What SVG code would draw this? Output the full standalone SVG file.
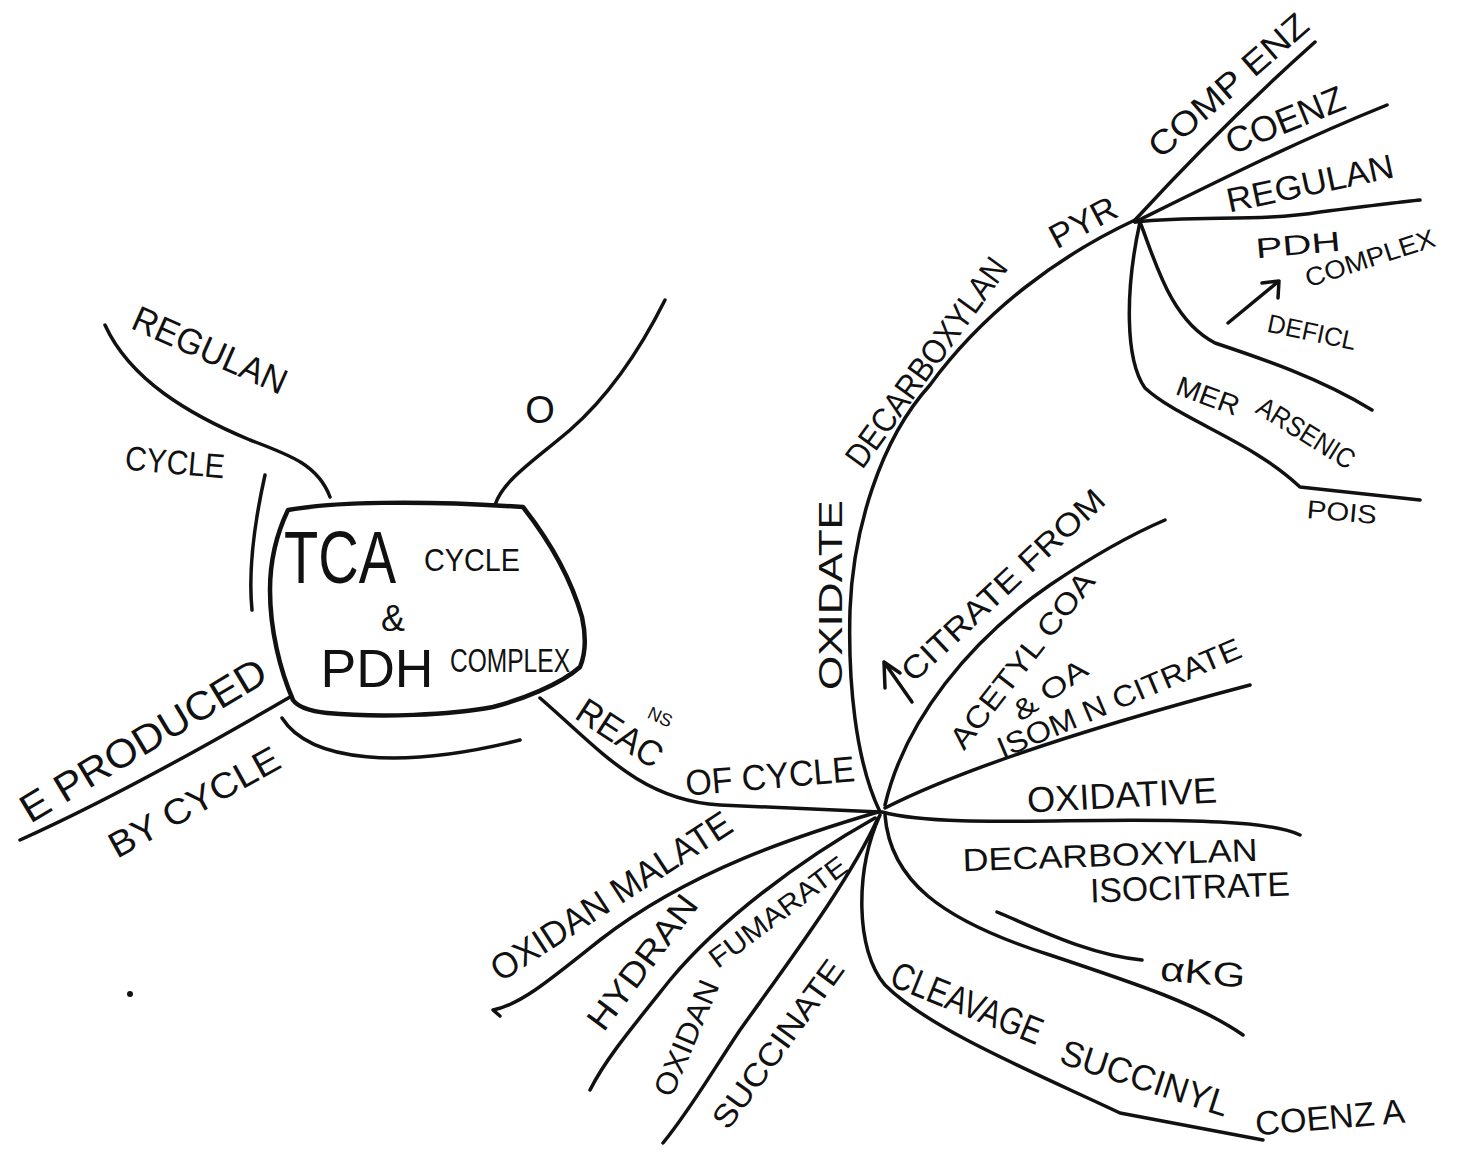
<svg xmlns="http://www.w3.org/2000/svg" width="1461" height="1152" viewBox="0 0 1461 1152">
  <style>
    .ln { fill: none; stroke: #111; stroke-width: 3.5; stroke-linecap: round; stroke-linejoin: round; }
    .box { fill: #fff; stroke: #111; stroke-width: 4.5; stroke-linejoin: round; }
    .t { font-family: "Liberation Sans", Arial, sans-serif; fill: #111; text-anchor: middle; dominant-baseline: central; }
  </style>
  <rect width="1461" height="1152" fill="#fff"/>

  <!-- branches -->
  <g id="connectors">
    <!-- central box branches -->
    <path class="ln" d="M330,497 C318,465 290,455 250,440 C190,415 130,380 105,325"/>
    <path class="ln" d="M265,475 C255,520 248,570 252,610"/>
    <path class="ln" d="M495,505 C503,480 535,460 570,430 C610,395 640,350 665,300"/>
    <path class="ln" d="M290,697 C230,732 120,795 20,840"/>
    <path class="ln" d="M282,718 C310,762 400,770 520,740"/>
    <path class="ln" d="M540,698 C600,750 640,800 720,805 L880,812"/>
    <!-- reaction hub -->
    <path class="ln" d="M880,812 C855,760 848,680 850,610 C853,530 880,440 930,385 C985,310 1060,255 1135,220"/>
    <path class="ln" d="M885,805 C905,720 970,640 1050,585 C1090,558 1130,535 1165,520"/>
    <path class="ln" d="M885,808 C960,770 1080,730 1250,685"/>
    <path class="ln" d="M882,812 C950,830 1100,815 1220,822 C1260,824 1285,828 1300,835"/>
    <path class="ln" d="M885,815 C890,880 940,920 1050,955 C1140,985 1200,1005 1243,1035"/>
    <path class="ln" d="M997,912 C1040,930 1090,955 1142,960"/>
    <path class="ln" d="M880,815 C855,870 855,950 885,985 C930,1030 1040,1075 1120,1113 L1263,1140"/>
    <path class="ln" d="M878,812 C800,835 690,870 600,940 C550,980 520,1005 493,1010 L500,1016"/>
    <path class="ln" d="M875,818 C800,860 720,920 670,980 C630,1030 605,1060 590,1090"/>
    <path class="ln" d="M878,818 C850,880 790,960 740,1030 C710,1075 690,1110 663,1143"/>
    <!-- PDH hub -->
    <path class="ln" d="M1135,220 C1190,160 1250,100 1315,42"/>
    <path class="ln" d="M1135,222 C1220,180 1300,140 1387,105"/>
    <path class="ln" d="M1135,222 C1200,215 1260,222 1320,212 C1360,207 1400,202 1420,200"/>
    <path class="ln" d="M1140,222 C1155,260 1170,320 1215,343 C1260,358 1320,378 1372,410"/>
    <path class="ln" d="M1140,222 C1125,290 1125,360 1145,388 C1180,420 1250,440 1300,487 L1420,500"/>
    <!-- small arrows -->
    <path class="ln" d="M912,702 L884,662 M885,688 L884,662 L900,673"/>
    <path class="ln" d="M1228,323 L1279,281 M1262,283 L1279,281 L1278,298"/>
  </g>

  <g id="node-centre">
    <path class="box" d="M288,510 C330,502 420,500 523,507 C545,535 570,575 582,617 C587,640 585,655 580,667 C560,685 520,700 493,707 C450,715 380,718 327,713 Q300,710 293,700 C280,670 270,630 270,590 C270,560 276,535 288,510 Z"/>
    <text class="t" x="340" y="557" font-size="74" textLength="112" lengthAdjust="spacingAndGlyphs">TCA</text>
    <text class="t" x="472" y="560" font-size="32" textLength="96" lengthAdjust="spacingAndGlyphs">CYCLE</text>
    <text class="t" x="393" y="618" font-size="36">&amp;</text>
    <text class="t" x="377" y="668" font-size="54" textLength="113" lengthAdjust="spacingAndGlyphs">PDH</text>
    <text class="t" x="510" y="660" font-size="34" textLength="120" lengthAdjust="spacingAndGlyphs">COMPLEX</text>
  </g>

  <g id="node-regulation">
    <text class="t" transform="translate(210,350) rotate(24)" font-size="36" textLength="165" lengthAdjust="spacingAndGlyphs">REGULAN</text>
    <text class="t" transform="translate(175,462) rotate(5)" font-size="34" textLength="100" lengthAdjust="spacingAndGlyphs">CYCLE</text>
  </g>

  <g id="node-o">
    <text class="t" x="540" y="410" font-size="38">O</text>
  </g>

  <g id="node-energy">
    <text class="t" transform="translate(143,740) rotate(-31)" font-size="40" textLength="280" lengthAdjust="spacingAndGlyphs">E PRODUCED</text>
    <text class="t" transform="translate(194,802) rotate(-29)" font-size="36" textLength="190" lengthAdjust="spacingAndGlyphs">BY CYCLE</text>
  </g>

  <g id="node-reactions">
    <text class="t" transform="translate(620,733) rotate(33)" font-size="36" textLength="95" lengthAdjust="spacingAndGlyphs">REAC</text>
    <text class="t" transform="translate(660,717) rotate(25)" font-size="18">NS</text>
    <text class="t" transform="translate(770,776) rotate(-5)" font-size="36" textLength="170" lengthAdjust="spacingAndGlyphs">OF CYCLE</text>
  </g>

  <g id="node-pyruvate">
    <text class="t" transform="translate(830,595) rotate(-90)" font-size="34" textLength="190" lengthAdjust="spacingAndGlyphs">OXIDATE</text>
    <text class="t" transform="translate(926,362) rotate(-54)" font-size="34" textLength="250" lengthAdjust="spacingAndGlyphs">DECARBOXYLAN</text>
    <text class="t" transform="translate(1083,222) rotate(-28)" font-size="34" textLength="72" lengthAdjust="spacingAndGlyphs">PYR</text>
  </g>

  <g id="node-comp-enz">
    <text class="t" transform="translate(1228,85) rotate(-41)" font-size="34" textLength="200" lengthAdjust="spacingAndGlyphs">COMP ENZ</text>
  </g>
  <g id="node-coenz">
    <text class="t" transform="translate(1285,120) rotate(-22)" font-size="36" textLength="125" lengthAdjust="spacingAndGlyphs">COENZ</text>
  </g>
  <g id="node-regulan">
    <text class="t" transform="translate(1310,183) rotate(-12)" font-size="34" textLength="170" lengthAdjust="spacingAndGlyphs">REGULAN</text>
  </g>
  <g id="node-pdh-deficl">
    <text class="t" transform="translate(1298,245) rotate(-5)" font-size="28" textLength="85" lengthAdjust="spacingAndGlyphs">PDH</text>
    <text class="t" transform="translate(1370,258) rotate(-18)" font-size="26" textLength="135" lengthAdjust="spacingAndGlyphs">COMPLEX</text>
    <text class="t" transform="translate(1312,332) rotate(12)" font-size="26" textLength="90" lengthAdjust="spacingAndGlyphs">DEFICL</text>
  </g>
  <g id="node-poisons">
    <text class="t" transform="translate(1208,396) rotate(20)" font-size="28" textLength="65" lengthAdjust="spacingAndGlyphs">MER</text>
    <text class="t" transform="translate(1306,433) rotate(32)" font-size="28" textLength="110" lengthAdjust="spacingAndGlyphs">ARSENIC</text>
    <text class="t" transform="translate(1342,512) rotate(5)" font-size="26" textLength="70" lengthAdjust="spacingAndGlyphs">POIS</text>
  </g>

  <g id="node-citrate">
    <text class="t" transform="translate(1003,585) rotate(-43)" font-size="32" textLength="265" lengthAdjust="spacingAndGlyphs">CITRATE FROM</text>
    <text class="t" transform="translate(1022,660) rotate(-52)" font-size="30" textLength="215" lengthAdjust="spacingAndGlyphs">ACETYL COA</text>
    <text class="t" transform="translate(1050,690) rotate(-35)" font-size="28" textLength="85" lengthAdjust="spacingAndGlyphs">&amp; OA</text>
  </g>

  <g id="node-isom">
    <text class="t" transform="translate(1119,698) rotate(-23)" font-size="30" textLength="262" lengthAdjust="spacingAndGlyphs">ISOM N CITRATE</text>
  </g>

  <g id="node-isocitrate">
    <text class="t" transform="translate(1122,795) rotate(-3)" font-size="36" textLength="190" lengthAdjust="spacingAndGlyphs">OXIDATIVE</text>
    <text class="t" transform="translate(1110,855) rotate(-2)" font-size="32" textLength="295" lengthAdjust="spacingAndGlyphs">DECARBOXYLAN</text>
    <text class="t" transform="translate(1190,887) rotate(-2)" font-size="34" textLength="200" lengthAdjust="spacingAndGlyphs">ISOCITRATE</text>
  </g>

  <g id="node-akg">
    <text class="t" transform="translate(1203,972) rotate(5)" font-size="34" textLength="85" lengthAdjust="spacingAndGlyphs">αKG</text>
  </g>

  <g id="node-succinyl">
    <text class="t" transform="translate(967,1003) rotate(22)" font-size="38" textLength="160" lengthAdjust="spacingAndGlyphs">CLEAVAGE</text>
    <text class="t" transform="translate(1145,1078) rotate(18)" font-size="36" textLength="175" lengthAdjust="spacingAndGlyphs">SUCCINYL</text>
    <text class="t" transform="translate(1330,1117) rotate(-5)" font-size="34" textLength="150" lengthAdjust="spacingAndGlyphs">COENZ A</text>
  </g>

  <g id="node-malate">
    <text class="t" transform="translate(611,896) rotate(-33)" font-size="36" textLength="280" lengthAdjust="spacingAndGlyphs">OXIDAN MALATE</text>
  </g>
  <g id="node-fumarate">
    <text class="t" transform="translate(642,962) rotate(-53)" font-size="34" textLength="160" lengthAdjust="spacingAndGlyphs">HYDRAN</text>
    <text class="t" transform="translate(778,912) rotate(-37)" font-size="28" textLength="165" lengthAdjust="spacingAndGlyphs">FUMARATE</text>
  </g>
  <g id="node-succinate">
    <text class="t" transform="translate(686,1038) rotate(-67)" font-size="30" textLength="123" lengthAdjust="spacingAndGlyphs">OXIDAN</text>
    <text class="t" transform="translate(778,1044) rotate(-54)" font-size="32" textLength="200" lengthAdjust="spacingAndGlyphs">SUCCINATE</text>
  </g>

  <circle cx="130" cy="994" r="3" fill="#111"/>
</svg>
